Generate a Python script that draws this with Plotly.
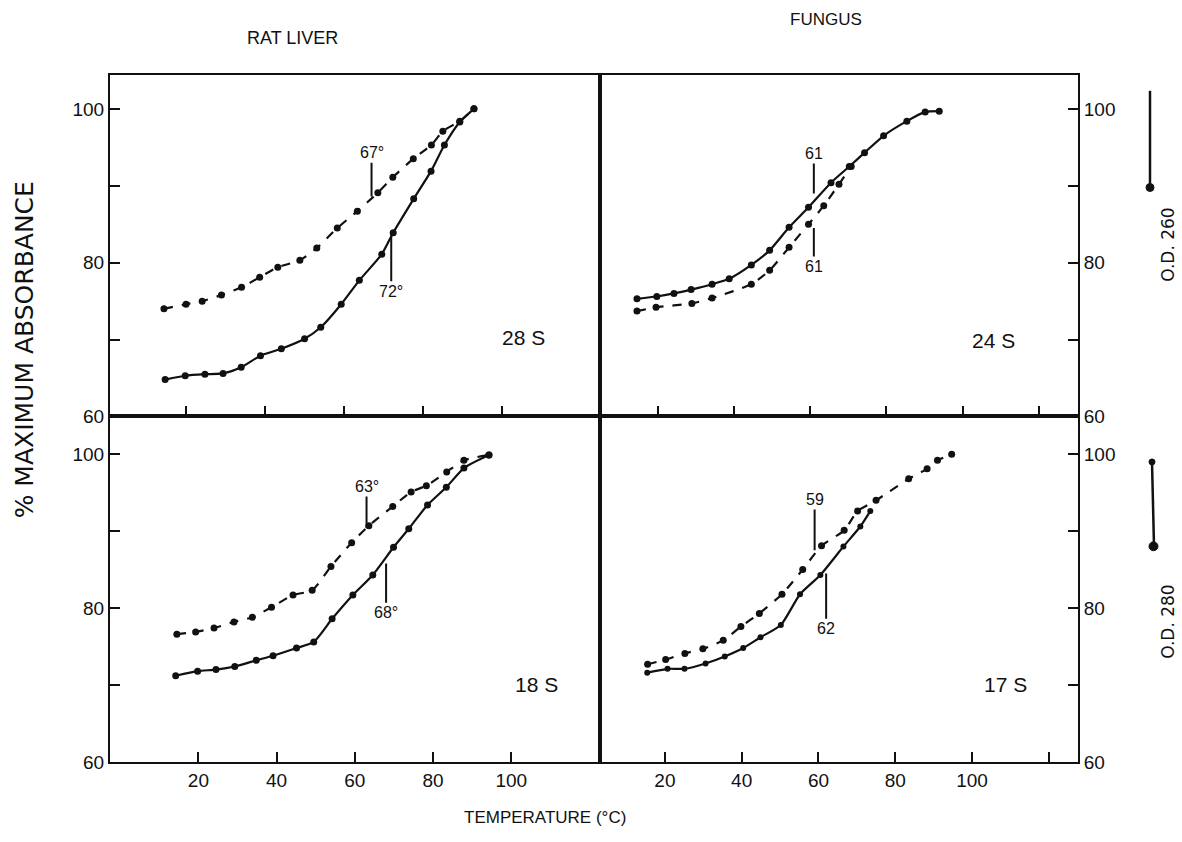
import plotly.graph_objects as go

# ---- melting profiles, % maximum absorbance vs temperature (°C) ----
# Rat liver 28 S
tl_dash_t = [14.3, 19.9, 24.0, 28.9, 34.0, 38.6, 43.2, 48.8, 53.1, 58.3, 63.4, 68.6, 72.4, 77.6, 82.2, 85.1, 89.4, 93.0]
tl_dash_pct = [74.0, 74.6, 75.0, 75.8, 76.8, 78.1, 79.4, 80.3, 81.9, 84.5, 86.7, 89.1, 91.1, 93.5, 95.3, 97.1, 98.4, 100.0]
tl_solid_t = [14.6, 19.7, 24.7, 29.3, 33.9, 38.8, 44.1, 50.0, 54.1, 59.3, 63.9, 69.6, 72.5, 77.7, 82.1, 85.5, 89.4, 93.0]
tl_solid_pct = [64.8, 65.3, 65.5, 65.6, 66.4, 67.9, 68.8, 70.1, 71.6, 74.6, 77.7, 81.1, 83.9, 88.3, 91.9, 95.3, 98.3, 100.0]

# Fungus 24 S
tr_solid_t = [14.6, 19.8, 24.3, 28.8, 34.3, 38.8, 44.6, 49.4, 54.5, 59.6, 65.5, 70.3, 74.3, 79.3, 85.4, 90.2, 93.9]
tr_solid_pct = [75.3, 75.6, 76.0, 76.5, 77.2, 77.9, 79.7, 81.6, 84.6, 87.2, 90.4, 92.5, 94.3, 96.5, 98.4, 99.6, 99.7]
tr_dash_t = [14.6, 19.6, 29.0, 34.3, 44.6, 49.4, 54.5, 59.6, 63.6, 67.6, 70.8]
tr_dash_pct = [73.7, 74.2, 74.7, 75.4, 77.2, 79.0, 82.0, 85.0, 87.4, 90.2, 92.5]

# Rat liver 18 S
bl_dash_t = [14.5, 19.3, 24.0, 29.1, 33.8, 38.7, 44.2, 49.1, 53.9, 59.2, 63.6, 69.7, 74.4, 78.3, 83.5, 87.9, 94.3]
bl_dash_pct = [76.6, 76.9, 77.4, 78.2, 78.8, 80.1, 81.7, 82.3, 85.4, 88.5, 90.7, 93.2, 95.1, 95.9, 97.7, 99.2, 99.9]
bl_solid_t = [14.2, 19.8, 24.5, 29.3, 34.8, 39.1, 45.1, 49.5, 54.2, 59.5, 64.6, 69.9, 73.8, 78.6, 83.4, 87.9, 94.3]
bl_solid_pct = [71.2, 71.8, 72.0, 72.4, 73.2, 73.8, 74.8, 75.6, 78.6, 81.7, 84.3, 87.9, 90.3, 93.4, 95.7, 98.2, 99.9]

# Fungus 17 S
br_dash_t = [15.5, 20.2, 25.2, 29.9, 35.2, 39.8, 44.6, 50.5, 55.9, 60.8, 66.7, 70.2, 75.0, 83.5, 88.3, 91.0, 94.7]
br_dash_pct = [72.7, 73.3, 74.1, 74.7, 75.8, 77.6, 79.3, 81.8, 85.0, 88.1, 90.1, 92.6, 94.0, 96.8, 98.1, 99.2, 100.0]
br_solid_t = [15.4, 20.7, 25.1, 30.6, 35.6, 40.4, 44.9, 50.2, 55.2, 60.5, 66.5, 70.9, 73.5]
br_solid_pct = [71.6, 72.1, 72.1, 72.8, 73.7, 74.8, 76.2, 77.8, 81.8, 84.3, 88.0, 90.6, 92.6]

# Tm markers: (panel, label, temperature, y on curve, y of label)
tm_marks = [
    ("tl", "67°", 67, 88.6, 94.3),
    ("tl", "72°", 72, 83.9, 76.3),
    ("tr", "61", 61, 89.0, 94.2),
    ("tr", "61", 61, 84.5, 79.5),
    ("bl", "63°", 63, 90.4, 95.8),
    ("bl", "68°", 68, 85.8, 79.4),
    ("br", "59", 59, 87.5, 94.1),
    ("br", "62", 62, 84.5, 77.3),
]
panel_names = {"tl": "28 S", "tr": "24 S", "bl": "18 S", "br": "17 S"}
name_pos = {"tl": (105.6, 70.3), "tr": (108.1, 69.9), "bl": (106.4, 70.1), "br": (108.6, 70.0)}

x_ticks = [20, 40, 60, 80, 100]
y_ticks = [60, 70, 80, 90, 100]
y_ticktext = ["60", "", "80", "", "100"]

INK = "#111111"
W, H = 1182, 842


def px_x(p):
    return p / W


def px_y(p):
    return 1 - p / H


col_left = [px_x(110), px_x(600)]
col_right = [px_x(600), px_x(1078)]
row_top = [px_y(422), px_y(76)]
row_bot = [px_y(772), px_y(422)]

# axis ids per panel
axes = {"tl": ("x", "y"), "tr": ("x2", "y2"), "bl": ("x3", "y3"), "br": ("x4", "y4")}

fig = go.Figure()


def add_curve(panel, t, pct, dash, msize=7):
    xa, ya = axes[panel]
    fig.add_trace(go.Scatter(
        x=t, y=pct, xaxis=xa, yaxis=ya, mode="lines+markers",
        line=dict(color=INK, width=2.2, dash=dash, shape="spline", smoothing=0.6),
        marker=dict(color=INK, size=msize),
        hoverinfo="skip",
    ))


add_curve("tl", tl_dash_t, tl_dash_pct, "dash")
add_curve("tl", tl_solid_t, tl_solid_pct, "solid")
add_curve("tr", tr_solid_t, tr_solid_pct, "solid")
add_curve("tr", tr_dash_t, tr_dash_pct, "dash")
add_curve("bl", bl_dash_t, bl_dash_pct, "dash")
add_curve("bl", bl_solid_t, bl_solid_pct, "solid")
add_curve("br", br_dash_t, br_dash_pct, "dash")
add_curve("br", br_solid_t, br_solid_pct, "solid", msize=6)

frame = dict(showline=True, linecolor=INK, linewidth=2, mirror=True,
             ticks="inside", ticklen=10, tickwidth=2, tickcolor=INK,
             showgrid=False, zeroline=False,
             tickfont=dict(family="Liberation Sans", size=19, color=INK))

layout = dict(
    width=W, height=H,
    margin=dict(l=0, r=0, t=0, b=0),
    paper_bgcolor="white", plot_bgcolor="white",
    showlegend=False,
    font=dict(family="Liberation Sans", color=INK, size=18),
)

# x axes
layout["xaxis"] = dict(frame, domain=col_left, anchor="y", range=[0.6, 125.0],
                       tickvals=x_ticks, showticklabels=False)
layout["xaxis2"] = dict(frame, domain=col_right, anchor="y2", range=[4.9, 130.3],
                        tickvals=x_ticks + [120], showticklabels=False)
layout["xaxis3"] = dict(frame, domain=col_left, anchor="y3", range=[-2.6, 122.7],
                        tickvals=x_ticks, ticktext=[str(v) for v in x_ticks])
layout["xaxis4"] = dict(frame, domain=col_right, anchor="y4", range=[3.1, 127.6],
                        tickvals=x_ticks + [120], ticktext=[str(v) for v in x_ticks] + [""])
# y axes
layout["yaxis"] = dict(frame, domain=row_top, anchor="x", range=[60, 104.4],
                       tickvals=y_ticks, ticktext=y_ticktext)
layout["yaxis2"] = dict(frame, domain=row_top, anchor="x2", range=[60, 104.4], side="right",
                        tickvals=y_ticks, ticktext=y_ticktext)
layout["yaxis3"] = dict(frame, domain=row_bot, anchor="x3", range=[60, 104.9],
                        tickvals=y_ticks, ticktext=y_ticktext)
layout["yaxis4"] = dict(frame, domain=row_bot, anchor="x4", range=[60, 104.9], side="right",
                        tickvals=y_ticks, ticktext=y_ticktext)
fig.update_layout(**layout)

annotations = []
for panel, label, t, y_curve, y_label in tm_marks:
    xa, ya = axes[panel]
    annotations.append(dict(
        x=t, y=y_curve, ax=t, ay=y_label, xref=xa, yref=ya, axref=xa, ayref=ya,
        text=label, showarrow=True, arrowhead=0, arrowwidth=2, arrowcolor=INK,
        font=dict(family="Liberation Sans", size=16, color=INK),
    ))
for panel, name in panel_names.items():
    xa, ya = axes[panel]
    nx, ny = name_pos[panel]
    annotations.append(dict(x=nx, y=ny, xref=xa, yref=ya, text=name, showarrow=False,
                            font=dict(family="Liberation Sans", size=21, color=INK)))


def paper_text(x, y, text, size, family="Liberation Sans", angle=0):
    return dict(x=px_x(x), y=px_y(y), xref="paper", yref="paper", text=text,
                showarrow=False, textangle=angle, xanchor="center", yanchor="middle",
                font=dict(family=family, size=size, color=INK))


# column headings, axis titles, right-hand O.D. labels
annotations += [
    paper_text(292, 38, "RAT LIVER", 18),
    paper_text(826, 20, "FUNGUS", 17),
    paper_text(545, 828, "TEMPERATURE (°C)", 17),
    paper_text(24, 355, "% MAXIMUM ABSORBANCE", 25, family="DejaVu Sans", angle=-90),
    paper_text(1168, 248, "O.D. 260", 17, family="DejaVu Sans", angle=-90),
    paper_text(1168, 630, "O.D. 280", 17, family="DejaVu Sans", angle=-90),
]
fig.update_layout(annotations=annotations)

# short legend keys beside the O.D. labels
shapes = [
    dict(type="line", xref="paper", yref="paper", x0=px_x(1150), x1=px_x(1150),
         y0=px_y(92), y1=px_y(190), line=dict(color=INK, width=2.5)),
    dict(type="circle", xref="paper", yref="paper", x0=px_x(1146), x1=px_x(1154),
         y0=px_y(186), y1=px_y(194), fillcolor=INK, line=dict(color=INK, width=1)),
    dict(type="line", xref="paper", yref="paper", x0=px_x(1152), x1=px_x(1154),
         y0=px_y(468), y1=px_y(553), line=dict(color=INK, width=2.5)),
    dict(type="circle", xref="paper", yref="paper", x0=px_x(1149), x1=px_x(1158),
         y0=px_y(549), y1=px_y(558), fillcolor=INK, line=dict(color=INK, width=1)),
    dict(type="circle", xref="paper", yref="paper", x0=px_x(1149), x1=px_x(1155),
         y0=px_y(465), y1=px_y(471), fillcolor=INK, line=dict(color=INK, width=1)),
]
fig.update_layout(shapes=shapes)

fig.write_html("out.html")
